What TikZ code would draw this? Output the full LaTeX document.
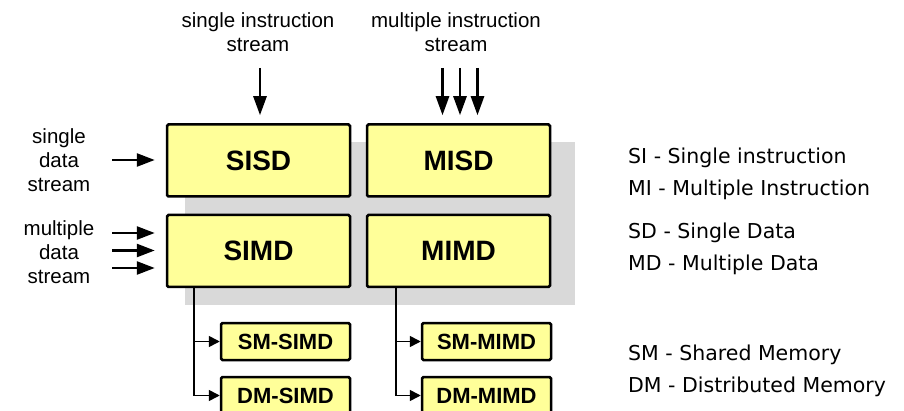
\documentclass[tikz,border=0pt]{standalone}
\usepackage{fontspec}
\setmainfont{Liberation Sans}
\newfontfamily\legendfont{DejaVu Sans}
\usetikzlibrary{arrows.meta}

\definecolor{boxYellow}{RGB}{255,255,153}
\definecolor{backGray}{RGB}{217,217,217}

\begin{document}
\begin{tikzpicture}[x=1pt,y=-1pt,%%
  arrowStyle/.style={-{Triangle[length=19pt,width=13pt]},line width=2.6pt},%%
  dataStyle/.style={-{Triangle[length=18pt,width=13pt]},line width=2.6pt},%%
  branchStyle/.style={-{Triangle[length=11pt,width=11pt]},line width=1.5pt},%%
  classStyle/.style={draw,line width=2.5pt,fill=boxYellow,rounded corners=1.5pt,%%
    minimum width=183pt,minimum height=72pt,inner sep=0pt,%%
    font=\fontsize{28}{32}\selectfont\bfseries},%%
  subStyle/.style={draw,line width=2.5pt,fill=boxYellow,rounded corners=1.5pt,%%
    minimum width=129pt,minimum height=37pt,inner sep=0pt,%%
    font=\fontsize{22}{26}\selectfont\bfseries},%%
  labelStyle/.style={align=center,inner sep=0pt,font=\fontsize{20.5}{24}\selectfont},%%
  legendStyle/.style={anchor=west,align=left,inner sep=0pt,%%
    font=\legendfont\fontsize{20.5}{32}\selectfont}%%
]
%%
\useasboundingbox (0,0) rectangle (904,411);
%%
\pgfmathsetmacro{\colA}{258.5}  %% centre of the SI column
\pgfmathsetmacro{\colB}{458.5}  %% centre of the MI column
\pgfmathsetmacro{\rowA}{160.5}  %% centre of the SD row
\pgfmathsetmacro{\rowB}{251}    %% centre of the MD row
\pgfmathsetmacro{\dstream}{17.5} %% gap between parallel streams
%%
%% The grey background.
\fill[backGray] (185,142) rectangle (575,305);
%%
%% The four classes.
\node[classStyle] (sisd) at (\colA,\rowA) {SISD};
\node[classStyle] (misd) at (\colB,\rowA) {MISD};
\node[classStyle] (simd) at (\colA,\rowB) {SIMD};
\node[classStyle] (mimd) at (\colB,\rowB) {MIMD};
%%
%% The memory variants.
\node[subStyle] (smsimd) at (285.5,341.5) {SM-SIMD};
\node[subStyle] (dmsimd) at (285.5,395.5) {DM-SIMD};
\node[subStyle] (smmimd) at (486.5,341.5) {SM-MIMD};
\node[subStyle] (dmmimd) at (486.5,395.5) {DM-MIMD};
%%
%% Stream labels.
\node[labelStyle] (sitext) at (258,32.5) {single instruction\\stream};
\node[labelStyle] (mitext) at (456,32.5) {multiple instruction\\stream};
\node[labelStyle] (sdtext) at (59,160) {single\\data\\stream};
\node[labelStyle] (mdtext) at (59,252) {multiple\\data\\stream};
%%
%% Instruction streams.
\coordinate (siStart) at (260,68);
\coordinate (miStart) at (460,68);
\draw[arrowStyle,shorten >=8pt] (siStart) -- (siStart |- sisd.north);
\foreach \dx in {-1,0,1}
  \draw[arrowStyle,shorten >=8pt] ([xshift=\dx*\dstream pt]miStart)
    -- ([xshift=\dx*\dstream pt]miStart |- misd.north);
%%
%% Data streams.
\coordinate (sdStart) at (112,160);
\coordinate (mdStart) at (112,250.5);
\draw[dataStyle,shorten >=11pt] (sdStart) -- (sdStart -| sisd.west);
\foreach \dy in {-1,0,1}
  \draw[dataStyle,shorten >=11pt] ([yshift=-\dy*17.5pt]mdStart)
    -- ([yshift=-\dy*17.5pt]mdStart -| simd.west);
%%
%% Branches to the memory variants.
\draw[branchStyle] ([xshift=28pt]simd.south west) |- (smsimd.west);
\draw[branchStyle] ([xshift=28pt]simd.south west) |- (dmsimd.west);
\draw[branchStyle] ([xshift=30pt]mimd.south west) |- (smmimd.west);
\draw[branchStyle] ([xshift=30pt]mimd.south west) |- (dmmimd.west);
%%
%% The legend.
\node[legendStyle] (legI) at (628,174) {SI - Single instruction\\MI - Multiple Instruction};
\node[legendStyle] (legD) at (628,249) {SD - Single Data\\MD - Multiple Data};
\node[legendStyle] (legM) at (628,370.5) {SM - Shared Memory\\DM - Distributed Memory};
\end{tikzpicture}
\end{document}
